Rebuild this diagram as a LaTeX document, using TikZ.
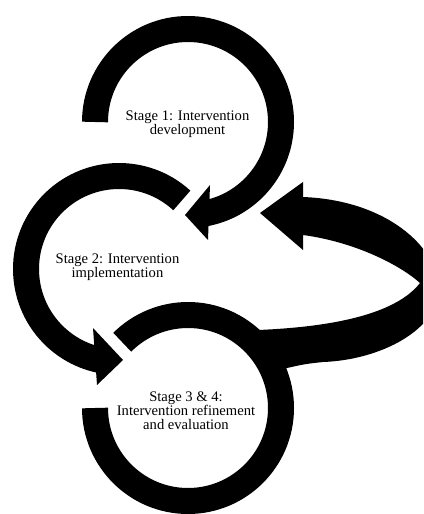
\documentclass[tikz,border=0pt]{standalone}
\usepackage{fontspec}
\setmainfont{Liberation Serif}
\usetikzlibrary{calc}
\begin{document}
\begin{tikzpicture}[x=1pt,y=-1pt,
  ring/.style={line width=26pt, draw=black, line cap=butt},
  headfill/.style={fill=black},
  stagelabel/.style={align=center, inner sep=0pt, font=\fontsize{14.6}{14}\selectfont}]
\useasboundingbox (0,0) rectangle (423,514);
\clip (0,0) rectangle (423,514);
\coordinate (c1) at (188,122);
\coordinate (c2) at (119,269);
\coordinate (c3) at (188,408);
% stage 1 ring and head
\draw[ring] ($(c1)+(180:93)$) arc[start angle=180, end angle=440, radius=93];
\fill[headfill] ($(c1)+(22,63)$) -- ($(c1)+(-3,93)$) -- ($(c1)+(20,118)$) -- cycle;
% stage 2 ring and head
\draw[ring] ($(c2)+(-47.5:93)$) arc[start angle=-47.5, end angle=-258, radius=93];
\fill[headfill] ($(c2)+(-26,59)$) -- ($(c2)+(4,91)$) -- ($(c2)+(-22,116)$) -- cycle;
% stage 3 ring
\draw[ring] ($(c3)+(180:93)$) arc[start angle=180, end angle=-135, radius=93];
% feedback arrow
\fill[headfill] (303,197) .. controls (380,200) and (432,240) .. (440,285)
  .. controls (440,330) and (380,360) .. (323,362)
  .. controls (305,364) .. (287,368)
  -- ($(c3)+(-22:90)$) -- ($(c3)+(-48:90)$) -- (258,330)
  .. controls (330,327) and (395,315) .. (420,283)
  .. controls (400,265) and (355,242) .. (303,235)
  -- (303,250) -- (260,213) -- (303,182) -- cycle;
% labels
\node[stagelabel] (s1) at (187.5,124.4) {Stage 1: Intervention\\development};
\node[stagelabel] (s2) at (117.5,267.4) {Stage 2: Intervention\\implementation};
\node[stagelabel] (s3) at (186,411) {Stage 3 \& 4:\\Intervention refinement\\and evaluation};
\end{tikzpicture}
\end{document}
